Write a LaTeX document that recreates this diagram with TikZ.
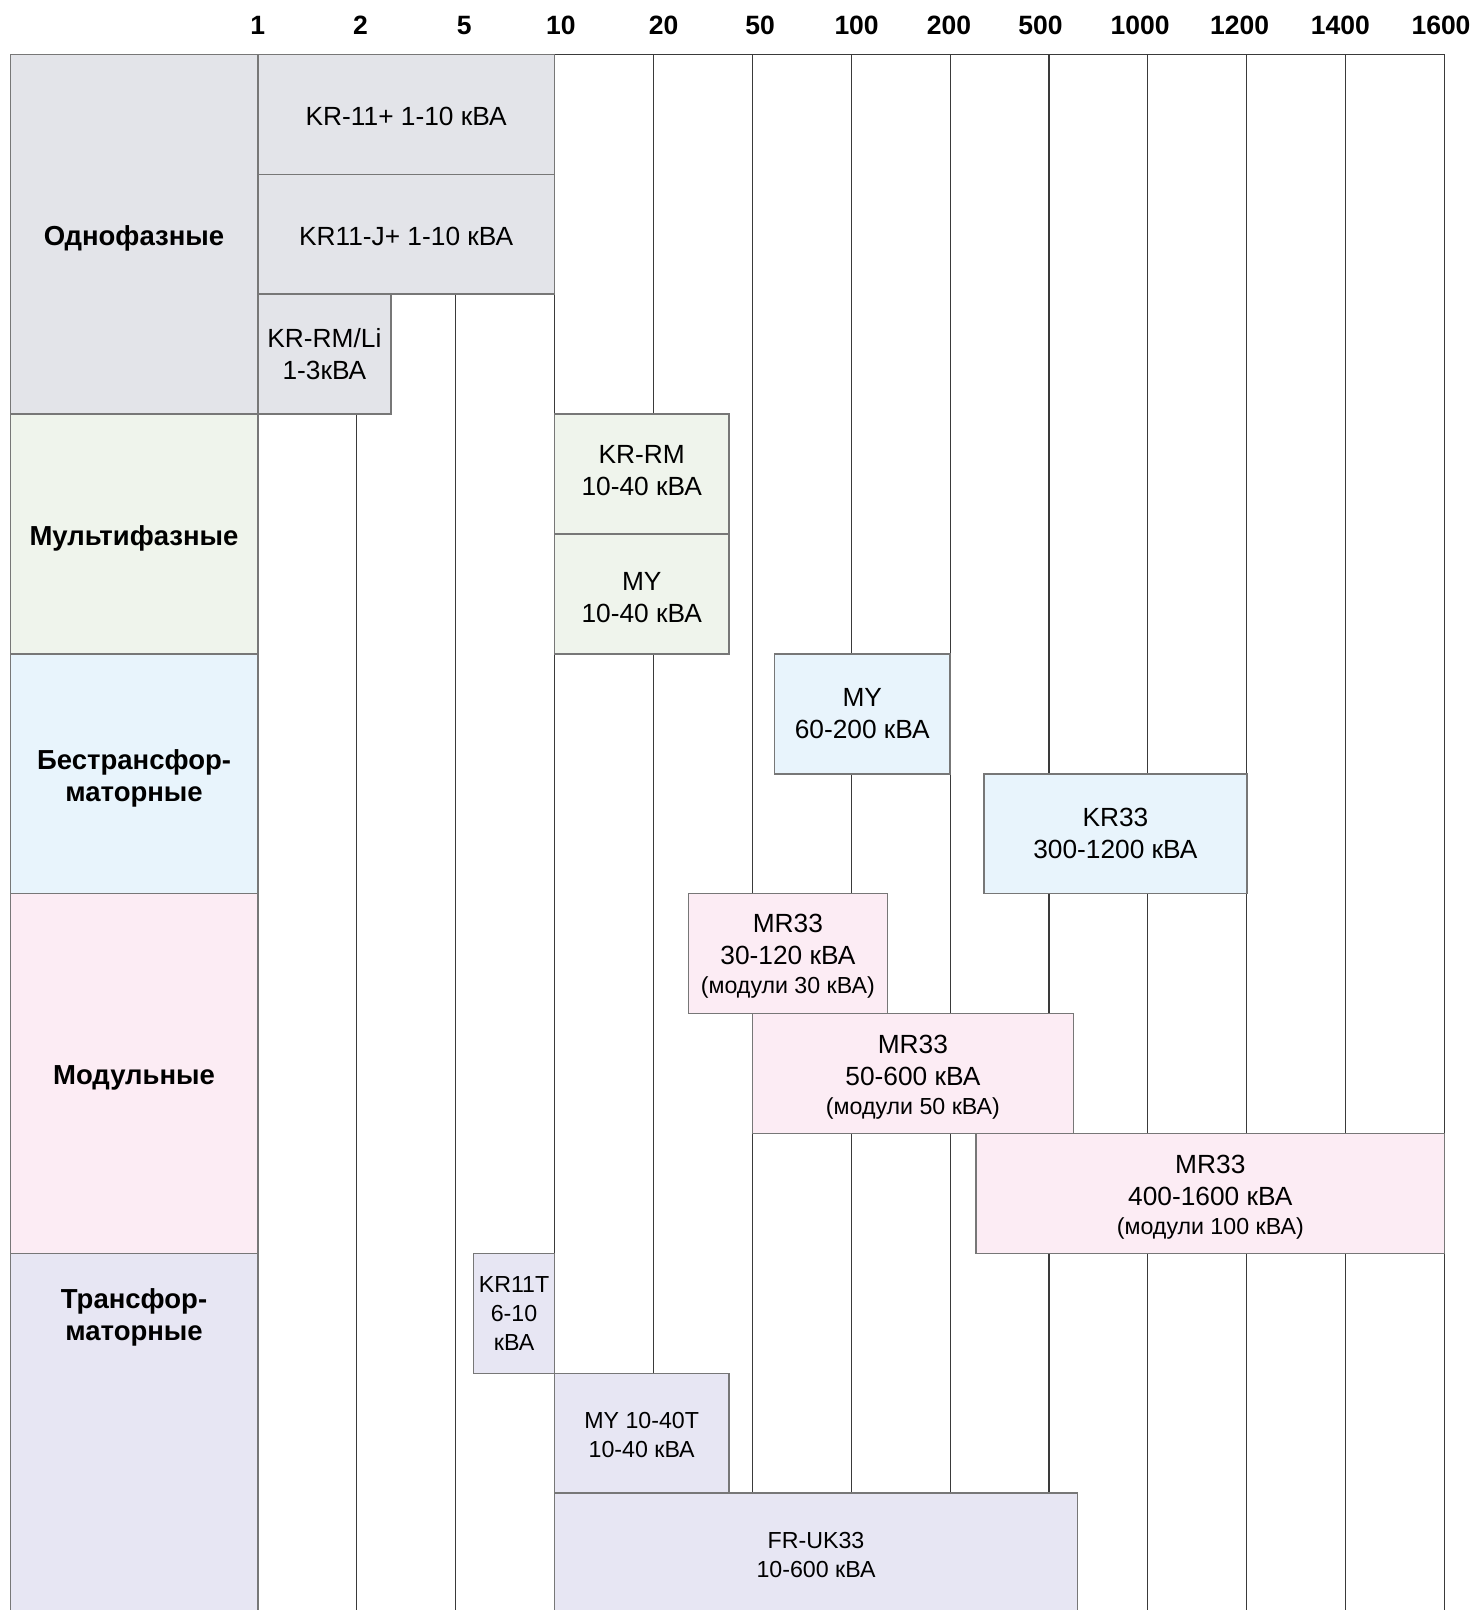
\documentclass[tikz,border=0pt]{standalone}
\usepackage{fontspec}
\setmainfont{Liberation Sans}
\definecolor{cgrey}{HTML}{E3E4E9}
\definecolor{cgreen}{HTML}{EFF4EC}
\definecolor{cblue}{HTML}{E8F4FC}
\definecolor{cpink}{HTML}{FCECF4}
\definecolor{clav}{HTML}{E7E6F3}
\definecolor{bordc}{HTML}{777777}
\definecolor{gridc}{HTML}{3A3A3A}
\newcommand\fmain{\fontsize{26.3}{31.8}\selectfont}
\newcommand\fsmall{\fontsize{23.2}{28.8}\selectfont}
\newcommand\fbold{\fontsize{27.5}{31.8}\selectfont\bfseries}
\newcommand\faxis{\fontsize{26.5}{28}\selectfont\bfseries}
\begin{document}
\begin{tikzpicture}[x=1pt,y=-1pt,
  gridline/.style={draw=gridc, line width=1.1pt},
  box/.style={draw=bordc, line width=1.5pt, inner sep=0pt, align=center, minimum height=119.9pt},
  prod/.style={box, font=\fmain},
  prodsmall/.style={box, font=\fsmall},
  txt/.style={font=\fmain, align=center, inner sep=0pt},
  rowbox/.style={draw=bordc, line width=1.5pt, inner sep=0pt, minimum width=247.5pt},
  axislbl/.style={font=\faxis, inner sep=0pt},
  rowlbl/.style={font=\fbold, align=center, inner sep=0pt}]
\useasboundingbox (0,0) rectangle (1476,1610);
\clip (0,0) rectangle (1476,1610);
\fill[white] (0,0) rectangle (1476,1610);

% axis labels
\node[axislbl] (a1)    at (257.8,25.7) {1};
\node[axislbl] (a2)    at (360.5,25.7) {2};
\node[axislbl] (a5)    at (464.2,25.7) {5};
\node[axislbl] (a10)   at (560.8,25.7) {10};
\node[axislbl] (a20)   at (663.5,25.7) {20};
\node[axislbl] (a50)   at (760.1,25.7) {50};
\node[axislbl] (a100)  at (856.6,25.7) {100};
\node[axislbl] (a200)  at (949.0,25.7) {200};
\node[axislbl] (a500)  at (1040.5,25.7) {500};
\node[axislbl] (a1000) at (1140.1,25.7) {1000};
\node[axislbl] (a1200) at (1239.7,25.7) {1200};
\node[axislbl] (a1400) at (1340.4,25.7) {1400};
\node[axislbl] (a1600) at (1441.0,25.7) {1600};

% grid
\foreach \x in {257.8,356.7,455.6,554.5,653.4,752.3,851.2,950.1,1049.0,1147.9,1246.8,1345.7,1444.6}
  \draw[gridline] (\x,54.4) -- (\x,1615);
\draw[gridline] (10.3,54.4) -- (1444.6,54.4);

% row category boxes
\node[rowbox, fill=cgrey,  minimum height=359.7pt] (single) at (134.05,234.25) {};
\node[rowbox, fill=cgreen, minimum height=239.8pt] (multi)  at (134.05,534.0) {};
\node[rowbox, fill=cblue,  minimum height=239.8pt] (tless)  at (134.05,773.8) {};
\node[rowbox, fill=cpink,  minimum height=359.7pt] (modul)  at (134.05,1073.55) {};
\node[rowbox, fill=clav,   minimum height=370pt]   (trafo)  at (134.05,1438.4) {};
\node[rowlbl] (singlelbl) at (134.05,238.5) {Однофазные};
\node[rowlbl] (multilbl)  at (134.05,538.2) {Мультифазные};
\node[rowlbl] (tlesslbl)  at (134.05,778) {Бестрансфор-\\маторные};
\node[rowlbl] (modullbl)  at (134.05,1078) {Модульные};
\node[rowlbl] (trafolbl)  at (134.05,1317.5) {Трансфор-\\маторные};

% product boxes
\node[prod, fill=cgrey, minimum width=296.7pt] (kr11)  at (406.15,114.35) {};
\node[txt] (kr11t1) at (406.15,116.3) {KR-11+ 1-10 кВА};
\node[prod, fill=cgrey, minimum width=296.7pt] (kr11j) at (406.15,234.25) {};
\node[txt] (kr11jt) at (406.15,236.2) {KR11-J+ 1-10 кВА};
\node[prod, fill=cgrey, minimum width=133.2pt] (krrmli) at (324.4,354.15) {KR-RM/Li\\1-3кВА};
\node[prod, fill=cgreen, minimum width=174.5pt] (krrm) at (641.75,474.05) {};
\node[txt] (krrmt) at (641.75,470.5) {KR-RM\\10-40 кВА};
\node[prod, fill=cgreen, minimum width=174.5pt] (my1)  at (641.75,593.95) {};
\node[txt] (my1t) at (641.75,597.5) {MY\\10-40 кВА};
\node[prod, fill=cblue, minimum width=175.7pt] (my2)   at (862.25,713.85) {MY\\60-200 кВА};
\node[prod, fill=cblue, minimum width=262.8pt] (kr33)  at (1115.4,833.75) {KR33\\300-1200 кВА};
\node[prod, fill=cpink, minimum width=199.1pt] (mr1)   at (787.85,953.65) {};
\node[txt] (mr1t) at (787.85,956.5) {MR33\\30-120 кВА\\[-3pt]{\fsmall (модули 30 кВА)}};
\node[prod, fill=cpink, minimum width=321.2pt] (mr2)   at (912.9,1073.55) {};
\node[txt] (mr2t) at (912.9,1077.5) {MR33\\50-600 кВА\\[-3pt]{\fsmall (модули 50 кВА)}};
\node[prod, fill=cpink, minimum width=468.6pt] (mr3)   at (1210.3,1193.45) {};
\node[txt] (mr3t) at (1210.3,1197.5) {MR33\\400-1600 кВА\\[-3pt]{\fsmall (модули 100 кВА)}};
\node[prodsmall, fill=clav, minimum width=80.9pt] (kr11t) at (514.05,1313.35) {KR11T\\6-10\\кВА};
\node[prodsmall, fill=clav, minimum width=174.3pt] (my3)  at (641.65,1433.25) {};
\node[txt, font=\fsmall] (my3t) at (641.65,1435.3) {MY 10-40T\\10-40 кВА};
\node[prodsmall, fill=clav, minimum width=523pt] (fruk)   at (816,1553.15) {};
\node[txt, font=\fsmall] (frukt) at (816,1555.2) {FR-UK33\\10-600 кВА};
\end{tikzpicture}
\end{document}
